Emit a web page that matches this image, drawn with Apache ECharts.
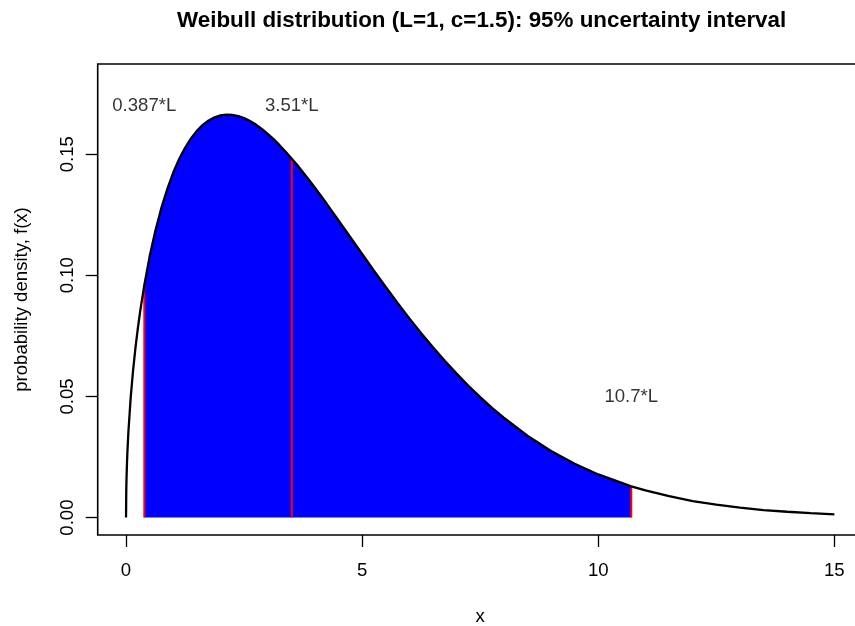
<!DOCTYPE html>
<html>
<head>
<meta charset="utf-8">
<script src="https://cdn.jsdelivr.net/npm/echarts@6/dist/echarts.min.js"></script>
<style>
html,body{margin:0;padding:0;background:#fff;}
#chart{width:855px;height:626px;}
</style>
</head>
<body>
<div id="chart"></div>
<script>
// Density curve
var curveX = [0, 0.005, 0.01, 0.02, 0.03, 0.05, 0.1, 0.15, 0.2, 0.25, 0.3, 0.387, 0.5, 0.625, 0.75, 0.875, 1, 1.125, 1.25, 1.375, 1.5, 1.625, 1.75, 1.875, 2, 2.125, 2.25, 2.375, 2.5, 2.625, 2.75, 2.875, 3, 3.125, 3.25, 3.375, 3.51, 3.625, 3.75, 3.875, 4, 4.25, 4.5, 4.75, 5, 5.25, 5.5, 5.75, 6, 6.25, 6.5, 6.75, 7, 7.25, 7.5, 7.75, 8, 8.5, 9, 9.5, 10, 10.7, 11, 11.5, 12, 12.5, 13, 13.5, 14, 14.5, 15];
var curveY = [0, 0.0112, 0.0158, 0.0224, 0.0274, 0.0353, 0.0499, 0.0609, 0.0701, 0.0781, 0.0852, 0.0959, 0.1078, 0.1187, 0.1279, 0.1357, 0.1424, 0.1480, 0.1526, 0.1565, 0.1596, 0.1621, 0.1639, 0.1652, 0.1660, 0.1663, 0.1662, 0.1657, 0.1649, 0.1637, 0.1622, 0.1604, 0.1584, 0.1562, 0.1537, 0.1511, 0.1481, 0.1455, 0.1424, 0.1393, 0.1361, 0.1295, 0.1226, 0.1157, 0.1088, 0.1019, 0.0952, 0.0886, 0.0822, 0.0761, 0.0703, 0.0647, 0.0594, 0.0544, 0.0497, 0.0453, 0.0412, 0.0338, 0.0275, 0.0222, 0.0178, 0.0129, 0.0112, 0.0088, 0.0068, 0.0053, 0.0041, 0.0031, 0.0024, 0.0018, 0.0013];
// Quantiles (2.5%, 50%, 97.5%)
var quantX = [0.387, 3.51, 10.7];
var quantY = [0.0959, 0.1481, 0.0129];
var quantLabels = ['0.387*L', '3.51*L', '10.7*L'];
var labelY = [0.17, 0.17, 0.05];
// Axis ticks
var xTicks = [0, 5, 10, 15];
var yTicks = [0, 0.05, 0.10, 0.15];
var titleText = 'Weibull distribution (L=1, c=1.5): 95% uncertainty interval';

var FONT = '"Liberation Sans", Arial, Helvetica, sans-serif';
var curveData = curveX.map(function (x, i) { return [x, curveY[i]]; });
var lo = quantX[0], hi = quantX[2];
var fillData = curveData.filter(function (p) { return p[0] >= lo && p[0] <= hi; });

var series = [];
series.push({
  type: 'line', data: fillData, symbol: 'none', silent: true,
  lineStyle: { width: 0, opacity: 0 },
  areaStyle: { color: '#0000FF', opacity: 1 },
  z: 1
});
series.push({
  type: 'line', data: curveData, symbol: 'none', silent: true,
  lineStyle: { color: '#000000', width: 2.3 },
  z: 3
});
quantX.forEach(function (q, i) {
  series.push({
    type: 'line', data: [[q, 0], [q, quantY[i]]], symbol: 'none', silent: true,
    lineStyle: { color: '#FF0000', width: 2 },
    z: 2
  });
});
series.push({
  type: 'scatter', silent: true, symbolSize: 0,
  data: quantX.map(function (q, i) { return { value: [q, labelY[i]], name: quantLabels[i] }; }),
  label: {
    show: true, position: 'inside', formatter: '{b}',
    color: '#000000', textBorderWidth: 0, fontSize: 18.6, fontFamily: FONT
  },
  z: 4
});

var chart = echarts.init(document.getElementById('chart'), null, { renderer: 'canvas' });
chart.setOption({
  backgroundColor: '#ffffff',
  animation: false,
  title: {
    text: titleText, left: 177, top: 10, padding: 0,
    textStyle: { fontSize: 22.4, fontWeight: 'bold', fontFamily: FONT, color: '#000' }
  },
  grid: {
    left: 97.7, top: 64, width: 765, height: 471,
    outerBoundsMode: 'none', containLabel: false,
    show: true, borderColor: '#000', borderWidth: 1.6, backgroundColor: 'transparent'
  },
  xAxis: {
    type: 'value', min: -0.6, max: 15.6,
    name: 'x', nameLocation: 'middle', nameGap: 72,
    nameTextStyle: { fontSize: 18.6, fontFamily: FONT, color: '#000' },
    axisLine: { show: false, onZero: false },
    splitLine: { show: false },
    axisTick: { show: true, customValues: xTicks, length: 12, inside: false, lineStyle: { color: '#000', width: 1.3 } },
    axisLabel: { show: true, customValues: xTicks, margin: 26, fontSize: 18.6, fontFamily: FONT, color: '#000' }
  },
  yAxis: {
    type: 'value', min: -0.0072, max: 0.1872,
    name: 'probability density, f(x)', nameLocation: 'middle', nameGap: 66, nameRotate: 90,
    nameTextStyle: { fontSize: 18.6, fontFamily: FONT, color: '#000' },
    axisLine: { show: false, onZero: false },
    splitLine: { show: false },
    axisTick: { show: true, customValues: yTicks, length: 12, inside: false, lineStyle: { color: '#000', width: 1.3 } },
    axisLabel: {
      show: true, customValues: yTicks, margin: 20, rotate: 90, fontSize: 18.6, fontFamily: FONT, color: '#000',
      formatter: function (v) { return v.toFixed(2); }
    }
  },
  series: series
});
</script>
</body>
</html>
